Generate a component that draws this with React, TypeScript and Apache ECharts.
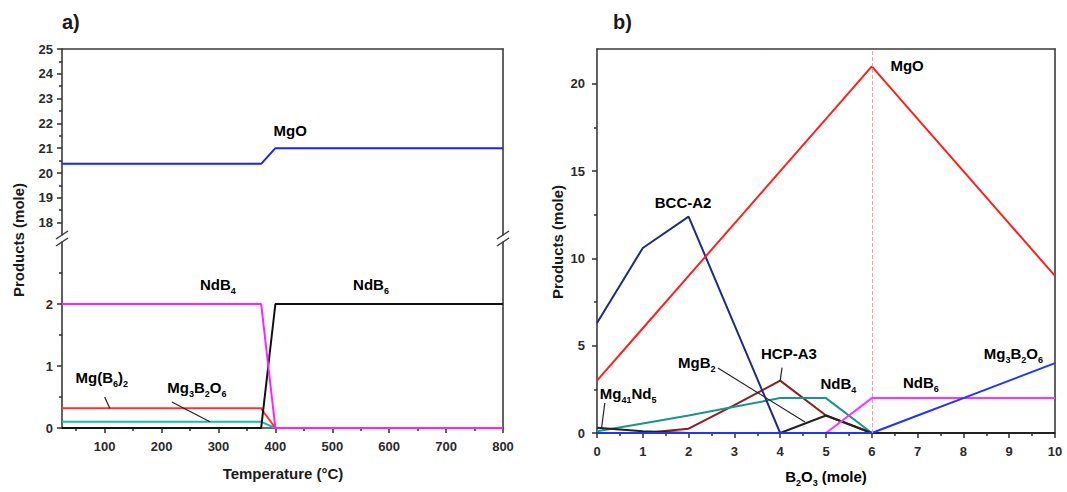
import React, { useEffect, useRef } from 'react';
import * as echarts from 'echarts';

const FONT = "'Liberation Sans', Arial, Helvetica, sans-serif";

// ---------- Panel a data ----------
const tempA = [25, 375, 400, 800];
const mgoA = [20.37, 20.37, 21, 21];
const ndb4A = [2, 2, 0, 0];
const ndb6A = [0, 0, 2, 2];
const mg3b2o6A = [0.1, 0.1, 0, 0];
const tempRedA = [25, 375, 380, 400, 800];
const mgB6A = [0.32, 0.32, 0.25, 0, 0];
const tempTicks = [100, 200, 300, 400, 500, 600, 700, 800];
const tempMinor = [50, 150, 250, 350, 450, 550, 650, 750];
const upperTicks = [18, 19, 20, 21, 22, 23, 24, 25];
const upperMinor = [18.5, 19.5, 20.5, 21.5, 22.5, 23.5, 24.5];
const lowerTicks = [0, 1, 2];
const lowerMinor = [0.5, 1.5, 2.5];

// ---------- Panel b data ----------
const b2o3 = [0, 1, 2, 3, 4, 5, 6, 7, 8, 9, 10];
const mgoB = [3, 6, 9, 12, 15, 18, 21, 18, 15, 12, 9];
const bccB = [6.3, 10.6, 12.4, 6.2, 0, 0, 0, 0, 0, 0, 0];
const hcpB = [0, 0, 0.25, 1.6, 3, 1, 0, 0, 0, 0, 0];
const ndb4B = [0.1, 0.55, 1.0, 1.5, 2, 2, 0, 0, 0, 0, 0];
const ndb6B = [0, 0, 0, 0, 0, 0, 2, 2, 2, 2, 2];
const mg3b2o6B = [0, 0, 0, 0, 0, 0, 0, 1, 2, 3, 4];
const mgb2B = [0, 0, 0, 0, 0, 1, 0, 0, 0, 0, 0];
const mg41nd5B = [0.3, 0.1, 0, 0, 0, 0, 0, 0, 0, 0, 0];
const bYTicks = [0, 5, 10, 15, 20];
const bYMinor = [2.5, 7.5, 12.5, 17.5];

// ---------- Annotations (data coordinates) ----------
const annUpperA = [{ t: '{n|MgO}', x: 426, y: 21.7 }];
const annLowerA = [
  { t: '{n|NdB}{s|4}', x: 299, y: 2.31 },
  { t: '{n|NdB}{s|6}', x: 568, y: 2.31 },
  { t: '{n|Mg(B}{s|6}{n|)}{s|2}', x: 95, y: 0.82 },
  { t: '{n|Mg}{s|3}{n|B}{s|2}{n|O}{s|6}', x: 262, y: 0.66 },
];
const leadLowerA = [
  [100, 0.5, 109, 0.32],
  [218, 0.42, 285, 0.1],
];
const annB = [
  { t: '{n|MgO}', x: 6.77, y: 21.03 },
  { t: '{n|BCC-A2}', x: 1.88, y: 13.18 },
  { t: '{n|MgB}{s|2}', x: 2.18, y: 4.03 },
  { t: '{n|HCP-A3}', x: 4.19, y: 4.58 },
  { t: '{n|NdB}{s|4}', x: 5.27, y: 2.81 },
  { t: '{n|NdB}{s|6}', x: 7.07, y: 2.87 },
  { t: '{n|Mg}{s|3}{n|B}{s|2}{n|O}{s|6}', x: 9.09, y: 4.58 },
  { t: '{n|Mg}{s|41}{n|Nd}{s|5}', x: 0.68, y: 2.29 },
];
const leadB = [
  [2.64, 3.72, 4.54, 0.63],
  [4.04, 3.75, 4.0, 3.0],
  [0.17, 1.72, 0.1, 0.28],
];

const zip = (xs: number[], ys: number[]) => xs.map((x, i) => [x, ys[i]]);

const rich = {
  n: { fontSize: 15, fontWeight: 'bold', fontFamily: FONT, color: '#1a1a1a', lineHeight: 20 },
  s: { fontSize: 9, fontWeight: 'bold', fontFamily: FONT, color: '#1a1a1a', lineHeight: 20, padding: [13, 0, 0, 0] },
};

const lineStyle = { color: '#3a3a3a', width: 1.6 };
const labelStyle = { color: '#2a2a2a', fontWeight: 'bold' as const, fontSize: 13, fontFamily: FONT };

function borderAxis(gridIndex: number, position: string, min: number, max: number) {
  return {
    type: 'value', gridIndex, position, min, max,
    axisLine: { show: true, onZero: false, lineStyle },
    axisTick: { show: false }, axisLabel: { show: false }, splitLine: { show: false },
  };
}
function minorAxis(gridIndex: number, position: string, min: number, max: number, values: number[]) {
  return {
    type: 'value', gridIndex, position, min, max,
    axisLine: { show: false, onZero: false },
    axisTick: { show: true, length: 3, lineStyle, customValues: values },
    axisLabel: { show: false }, splitLine: { show: false },
  };
}
function mainAxis(gridIndex: number, position: string, min: number, max: number, values: number[], margin: number) {
  return {
    type: 'value', gridIndex, position, min, max,
    axisLine: { show: true, onZero: false, lineStyle },
    axisTick: { show: true, length: 5, lineStyle, customValues: values },
    axisLabel: { ...labelStyle, margin, customValues: values },
    splitLine: { show: false },
  };
}
const ln = (name: string, xi: number, yi: number, data: number[][], color: string, extra: any = {}) => ({
  name, type: 'line', xAxisIndex: xi, yAxisIndex: yi, data, symbol: 'none',
  lineStyle: { color, width: 2 }, itemStyle: { color }, ...extra,
});

export default function App() {
  const ref = useRef<HTMLDivElement>(null);
  useEffect(() => {
    if (!ref.current) return;
    const chart = echarts.init(ref.current, null, { renderer: 'svg' });
    chart.setOption({
      animation: false,
      backgroundColor: '#fff',
      grid: [
        { left: 62, top: 49, width: 441, height: 186 },
        { left: 62, top: 242, width: 441, height: 186 },
        { left: 597, top: 49, width: 458, height: 384 },
      ],
      xAxis: [
        borderAxis(0, 'top', 25, 800),
        mainAxis(1, 'bottom', 25, 800, tempTicks, 12),
        minorAxis(1, 'bottom', 25, 800, tempMinor),
        {
          type: 'value', gridIndex: 2, position: 'bottom', min: 0, max: 10, interval: 1,
          axisLine: { show: true, onZero: false, lineStyle },
          axisTick: { show: true, length: 5, lineStyle },
          minorTick: { show: true, splitNumber: 2, length: 3, lineStyle },
          axisLabel: { ...labelStyle, margin: 12 },
          splitLine: { show: false },
        },
        borderAxis(2, 'top', 0, 10),
      ],
      yAxis: [
        mainAxis(0, 'left', 17.5, 25, upperTicks, 9),
        minorAxis(0, 'left', 17.5, 25, upperMinor),
        borderAxis(0, 'right', 17.5, 25),
        mainAxis(1, 'left', 0, 3, lowerTicks, 9),
        minorAxis(1, 'left', 0, 3, lowerMinor),
        borderAxis(1, 'right', 0, 3),
        mainAxis(2, 'left', 0, 22, bYTicks, 12),
        minorAxis(2, 'left', 0, 22, bYMinor),
        borderAxis(2, 'right', 0, 22),
      ],
      series: [
        ln('MgO a', 0, 0, zip(tempA, mgoA), '#1f1fff'),
        ln('Mg3B2O6 a', 1, 3, zip(tempA, mg3b2o6A), '#22b5b5'),
        ln('Mg(B6)2 a', 1, 3, zip(tempRedA, mgB6A), '#ff3030'),
        ln('NdB6 a', 1, 3, zip(tempA, ndb6A), '#111111'),
        ln('NdB4 a', 1, 3, zip(tempA, ndb4A), '#ff22ff'),

        ln('HCP-A3', 3, 6, zip(b2o3, hcpB), '#8b1e1e'),
        ln('NdB4 b', 3, 6, zip(b2o3, ndb4B), '#16968a'),
        ln('BCC-A2', 3, 6, zip(b2o3, bccB), '#1d2b86'),
        ln('MgB2', 3, 6, zip(b2o3, mgb2B), '#222222'),
        ln('Mg41Nd5', 3, 6, zip(b2o3, mg41nd5B), '#222222'),
        ln('NdB6 b', 3, 6, zip(b2o3, ndb6B), '#ff33ff'),
        ln('Mg3B2O6 b', 3, 6, zip(b2o3, mg3b2o6B), '#2233ff'),
        ln('MgO b', 3, 6, zip(b2o3, mgoB), '#ff1f1f', {
          markLine: {
            silent: true, symbol: 'none', label: { show: false },
            lineStyle: { color: '#ff9a9a', type: 'dashed', width: 1 },
            data: [{ xAxis: 6 }],
          },
        }),
      ],
    });

    const px = (xi: number, yi: number, x: number, y: number) =>
      chart.convertToPixel({ xAxisIndex: xi, yAxisIndex: yi } as any, [x, y]) as number[];

    const graphics: any[] = [];
    const addText = (xi: number, yi: number, a: { t: string; x: number; y: number }) => {
      const p = px(xi, yi, a.x, a.y);
      graphics.push({
        type: 'text', x: p[0], y: p[1], z: 10,
        style: { text: a.t, rich, align: 'center', verticalAlign: 'middle' },
      });
    };
    const addLead = (xi: number, yi: number, l: number[]) => {
      const p1 = px(xi, yi, l[0], l[1]);
      const p2 = px(xi, yi, l[2], l[3]);
      graphics.push({
        type: 'line', z: 10,
        shape: { x1: p1[0], y1: p1[1], x2: p2[0], y2: p2[1] },
        style: { stroke: '#222', lineWidth: 1.2 },
      });
    };
    annUpperA.forEach((a) => addText(0, 0, a));
    annLowerA.forEach((a) => addText(1, 3, a));
    leadLowerA.forEach((l) => addLead(1, 3, l));
    annB.forEach((a) => addText(3, 6, a));
    leadB.forEach((l) => addLead(3, 6, l));

    // axis break marks
    [62, 503].forEach((bx) => {
      [[236, 230], [243, 237]].forEach(([yb, yt]) => {
        graphics.push({
          type: 'line', z: 10,
          shape: { x1: bx - 6, y1: yb + 3, x2: bx + 6, y2: yt + 1 },
          style: { stroke: '#3a3a3a', lineWidth: 1.5 },
        });
      });
    });

    const titleStyle = { fontSize: 15, fontWeight: 'bold', fontFamily: FONT, fill: '#1a1a1a' };
    graphics.push(
      { type: 'text', x: 62, y: 22, style: { text: 'a)', ...titleStyle, fontSize: 20, verticalAlign: 'middle' } },
      { type: 'text', x: 613, y: 22, style: { text: 'b)', ...titleStyle, fontSize: 20, verticalAlign: 'middle' } },
      { type: 'text', x: 18, y: 240, rotation: Math.PI / 2, style: { text: 'Products (mole)', ...titleStyle, align: 'center', verticalAlign: 'middle' } },
      { type: 'text', x: 557, y: 242, rotation: Math.PI / 2, style: { text: 'Products (mole)', ...titleStyle, align: 'center', verticalAlign: 'middle' } },
      { type: 'text', x: 283, y: 473, style: { text: 'Temperature (°C)', ...titleStyle, align: 'center', verticalAlign: 'middle' } },
      {
        type: 'text', x: 826, y: 476,
        style: { text: '{n|B}{s|2}{n|O}{s|3}{n| (mole)}', rich, align: 'center', verticalAlign: 'middle' },
      },
    );
    chart.setOption({ graphic: graphics });
    return () => chart.dispose();
  }, []);
  return (
    <div
      ref={ref}
      style={{ position: 'absolute', left: 0, top: 0, width: 1067, height: 492, background: '#fff' }}
    />
  );
}
